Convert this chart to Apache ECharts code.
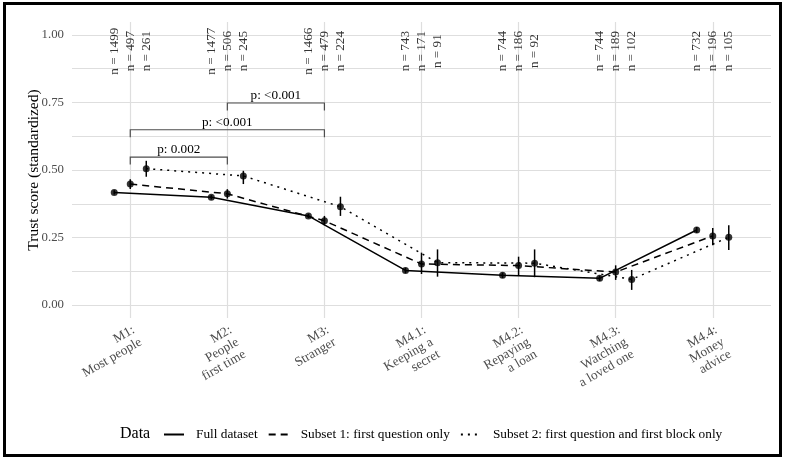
<!DOCTYPE html>
<html>
<head>
<meta charset="utf-8">
<script src="https://cdn.jsdelivr.net/npm/echarts@6/dist/echarts.min.js"></script>
<style>
  html, body { margin: 0; padding: 0; background: #fff; }
  #chart { width: 785px; height: 459px; }
</style>
</head>
<body>
<div id="chart"></div>
<script>
const categories = [
  'M1:\nMost people', 'M2:\nPeople\nfirst time', 'M3:\nStranger',
  'M4.1:\nKeeping a\nsecret', 'M4.2:\nRepaying\na loan',
  'M4.3:\nWatching\na loved one', 'M4.4:\nMoney\nadvice'
]
const seriesNames = ['Full dataset', 'Subset 1: first question only', 'Subset 2: first question and first block only']

// means and 95% intervals per group
const fullMean = [0.417, 0.399, 0.330, 0.128, 0.110, 0.099, 0.278]
const fullLo = [0.409, 0.391, 0.322, 0.118, 0.100, 0.089, 0.267]
const fullHi = [0.425, 0.407, 0.338, 0.138, 0.120, 0.109, 0.289]

const sub1Mean = [0.448, 0.412, 0.312, 0.152, 0.146, 0.122, 0.256]
const sub1Lo = [0.430, 0.394, 0.295, 0.115, 0.111, 0.093, 0.221]
const sub1Hi = [0.466, 0.429, 0.330, 0.194, 0.179, 0.147, 0.285]

const sub2Mean = [0.505, 0.478, 0.364, 0.157, 0.155, 0.095, 0.251]
const sub2Lo = [0.475, 0.448, 0.330, 0.105, 0.103, 0.056, 0.204]
const sub2Hi = [0.534, 0.497, 0.401, 0.206, 0.206, 0.130, 0.295]

// sample sizes
const fullN = [1499, 1477, 1466, 743, 744, 744, 732]
const sub1N = [497, 506, 479, 171, 186, 189, 196]
const sub2N = [261, 245, 224, 91, 92, 102, 105]

// comparison brackets
const bracketFrom = [1, 1, 2]
const bracketTo = [2, 3, 3]
const bracketY = [0.548, 0.649, 0.748]
const bracketLabels = ['p: 0.002', 'p: <0.001', 'p: <0.001']

const yTicks = [0, 0.25, 0.5, 0.75, 1]
const yGrid = [0, 0.125, 0.25, 0.375, 0.5, 0.625, 0.75, 0.875, 1]

const dodge = 0.165
const nLabelY = 0.94
const font = 'Liberation Serif'

const groups = [
  { name: seriesNames[0], mean: fullMean, lo: fullLo, hi: fullHi, n: fullN, off: -dodge, type: 'solid' },
  { name: seriesNames[1], mean: sub1Mean, lo: sub1Lo, hi: sub1Hi, n: sub1N, off: 0, type: [7, 5] },
  { name: seriesNames[2], mean: sub2Mean, lo: sub2Lo, hi: sub2Hi, n: sub2N, off: dodge, type: [2, 5] }
]

const series = []
groups.forEach(g => {
  series.push({
    name: g.name,
    type: 'line',
    symbol: 'none',
    data: g.mean.map((v, i) => [i + 1 + g.off, v]),
    lineStyle: { color: '#000', width: 1.5, type: g.type },
    itemStyle: { color: '#000' },
    z: 3
  })
  series.push({
    type: 'custom',
    data: g.mean.map((v, i) => [i + 1 + g.off, g.lo[i], g.hi[i]]),
    renderItem: (params, api) => {
      const a = api.coord([api.value(0), api.value(1)])
      const b = api.coord([api.value(0), api.value(2)])
      return {
        type: 'line',
        shape: { x1: a[0], y1: a[1], x2: b[0], y2: b[1] },
        style: { stroke: '#000', lineWidth: 1.5 }
      }
    },
    z: 4
  })
  series.push({
    type: 'scatter',
    symbol: 'circle',
    symbolSize: 7,
    data: g.mean.map((v, i) => [i + 1 + g.off, v]),
    itemStyle: { color: '#000' },
    z: 5
  })
  series.push({
    type: 'scatter',
    symbolSize: 0,
    silent: true,
    data: g.n.map((v, i) => [i + 1 + g.off, nLabelY, v]),
    label: {
      show: true,
      position: 'inside',
      rotate: 90,
      formatter: p => 'n = ' + p.value[2],
      fontFamily: font,
      fontSize: 13.2,
      color: '#000'
    }
  })
})

series.push({
  type: 'custom',
  data: bracketFrom.map((f, i) => [f, bracketTo[i], bracketY[i], i]),
  renderItem: (params, api) => {
    const y = api.value(2)
    const l = api.coord([api.value(0), y])
    const r = api.coord([api.value(1), y])
    const lb = api.coord([api.value(0), y - 0.028])
    const rb = api.coord([api.value(1), y - 0.028])
    const st = { stroke: '#4d4d4d', lineWidth: 1.2, fill: 'none' }
    return {
      type: 'group',
      children: [
        { type: 'polyline', shape: { points: [lb, l, r, rb] }, style: st },
        {
          type: 'text',
          x: (l[0] + r[0]) / 2, y: l[1] - 1,
          style: {
            text: bracketLabels[api.value(3)],
            align: 'center', verticalAlign: 'bottom',
            fontFamily: font, fontSize: 13.2, fill: '#000'
          }
        }
      ]
    }
  },
  z: 6
})

const chart = echarts.init(document.getElementById('chart'))
chart.setOption({
  animation: false,
  backgroundColor: '#fff',
  title: {
    text: 'Data',
    left: 115, top: 421,
    textStyle: { fontFamily: font, fontSize: 16, fontWeight: 'normal', color: '#000' }
  },
  legend: {
    data: seriesNames,
    left: 158, top: 423,
    itemWidth: 20, itemHeight: 12, itemGap: 10,
    itemStyle: { opacity: 0 },
    textStyle: { fontFamily: font, fontSize: 13.3, color: '#000', padding: [0, 0, 0, 7] }
  },
  grid: { left: 72, right: 14, top: 22, bottom: 141, containLabel: false },
  xAxis: {
    type: 'value',
    min: 0.4, max: 7.6,
    axisLine: { show: false },
    axisTick: { show: false, customValues: [1, 2, 3, 4, 5, 6, 7] },
    splitLine: { show: true, lineStyle: { color: '#dedede', width: 1.2 } },
    axisLabel: {
      customValues: [1, 2, 3, 4, 5, 6, 7],
      formatter: v => categories[Math.round(v) - 1],
      rotate: 30,
      align: 'right',
      verticalAlign: 'top',
      margin: 5,
      lineHeight: 14,
      fontFamily: font, fontSize: 13.3, color: '#4d4d4d'
    }
  },
  yAxis: {
    type: 'value',
    min: -0.048, max: 1.048,
    name: 'Trust score (standardized)',
    nameLocation: 'middle',
    nameGap: 30,
    nameMoveOverlap: false,
    nameTextStyle: { fontFamily: font, fontSize: 15.5, color: '#000' },
    axisLine: { show: false },
    axisTick: { show: false, customValues: yGrid },
    splitLine: { show: true, lineStyle: { color: '#dedede', width: 1.2 } },
    axisLabel: {
      customValues: yTicks,
      formatter: v => v.toFixed(2),
      margin: 8,
      fontFamily: font, fontSize: 12.8, color: '#4d4d4d'
    }
  },
  graphic: [{
    type: 'rect',
    shape: { x: 4.5, y: 3.5, width: 776, height: 452 },
    style: { fill: 'none', stroke: '#000', lineWidth: 3 },
    silent: true
  }],
  series: series
})
</script>
</body>
</html>
